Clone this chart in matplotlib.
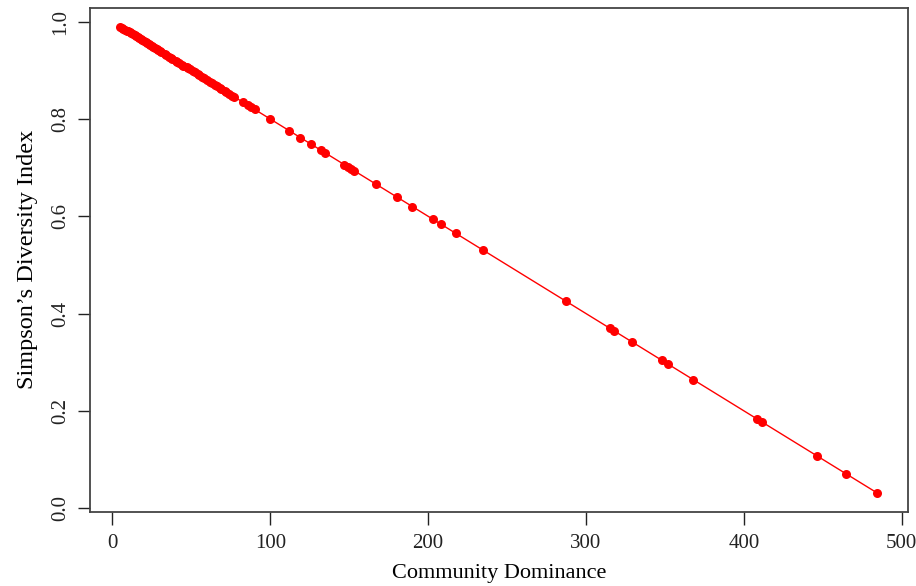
import matplotlib
matplotlib.use('Agg')
import matplotlib.pyplot as plt

# community dominance vs. Simpson's diversity index
dominance = [5, 6, 7, 8, 9, 10, 11, 12, 13, 14, 15, 16, 17, 18, 19, 20,
             21, 22, 23, 24, 25, 26, 27, 28, 29, 30, 31, 33, 34, 36, 37, 38,
             40, 41, 42, 44, 45, 47, 48, 49, 51, 52, 54, 55, 57, 58, 60, 62,
             63, 65, 66, 68, 69, 71, 72, 74, 76, 77, 83, 86, 88, 90, 100, 112,
             119, 125.5, 132, 134.5, 147, 149, 151, 153, 167, 180, 190, 203,
             208, 217.5, 235, 287.5, 315, 317.5, 329, 348, 352, 368, 408.5,
             411.5, 446, 464.5, 484.5]
simpson = [0.990, 0.988, 0.986, 0.984, 0.982, 0.980, 0.978, 0.976, 0.974,
           0.972, 0.970, 0.968, 0.966, 0.964, 0.962, 0.960, 0.958, 0.956,
           0.954, 0.952, 0.950, 0.948, 0.946, 0.944, 0.942, 0.940, 0.938,
           0.934, 0.932, 0.928, 0.926, 0.924, 0.920, 0.918, 0.916, 0.912,
           0.910, 0.906, 0.904, 0.902, 0.898, 0.896, 0.892, 0.890, 0.886,
           0.884, 0.880, 0.876, 0.874, 0.870, 0.868, 0.864, 0.862, 0.858,
           0.856, 0.852, 0.848, 0.846, 0.834, 0.828, 0.824, 0.820, 0.800,
           0.776, 0.762, 0.749, 0.736, 0.731, 0.706, 0.702, 0.698, 0.694,
           0.666, 0.640, 0.620, 0.594, 0.584, 0.565, 0.530, 0.425, 0.370,
           0.365, 0.342, 0.304, 0.296, 0.264, 0.183, 0.177, 0.108, 0.071,
           0.031]
x_ticks = [0, 100, 200, 300, 400, 500]
y_ticks = [0.0, 0.2, 0.4, 0.6, 0.8, 1.0]

plt.rcParams['font.family'] = ['Liberation Serif', 'DejaVu Serif']
plt.rcParams['font.size'] = 16

fig = plt.figure(figsize=(9.16, 5.86), dpi=100)
ax = fig.add_axes([0.0983, 0.1268, 0.8925, 0.8596])

ax.plot(dominance, simpson, color='red', lw=1, marker='o', markersize=6.5,
        markeredgewidth=0)
ax.margins(x=0.04, y=0.04)

ax.set_xticks(x_ticks)
ax.set_xticklabels([str(t) for t in x_ticks])
ax.set_yticks(y_ticks)
ax.set_yticklabels([f'{t:.1f}' for t in y_ticks], rotation=90, va='center')
ax.tick_params(direction='out', length=9, width=1, pad=7, colors='#222',
               labelsize=15)
ax.tick_params(axis='y', pad=5)

for s in ax.spines.values():
    s.set_color('#444')
    s.set_linewidth(1.3)

ax.set_xlabel('Community Dominance', fontsize=16, labelpad=8)
ax.set_ylabel('Simpson\u2019s Diversity Index', fontsize=17.5, labelpad=10)

fig.savefig('out.png', dpi=100)
